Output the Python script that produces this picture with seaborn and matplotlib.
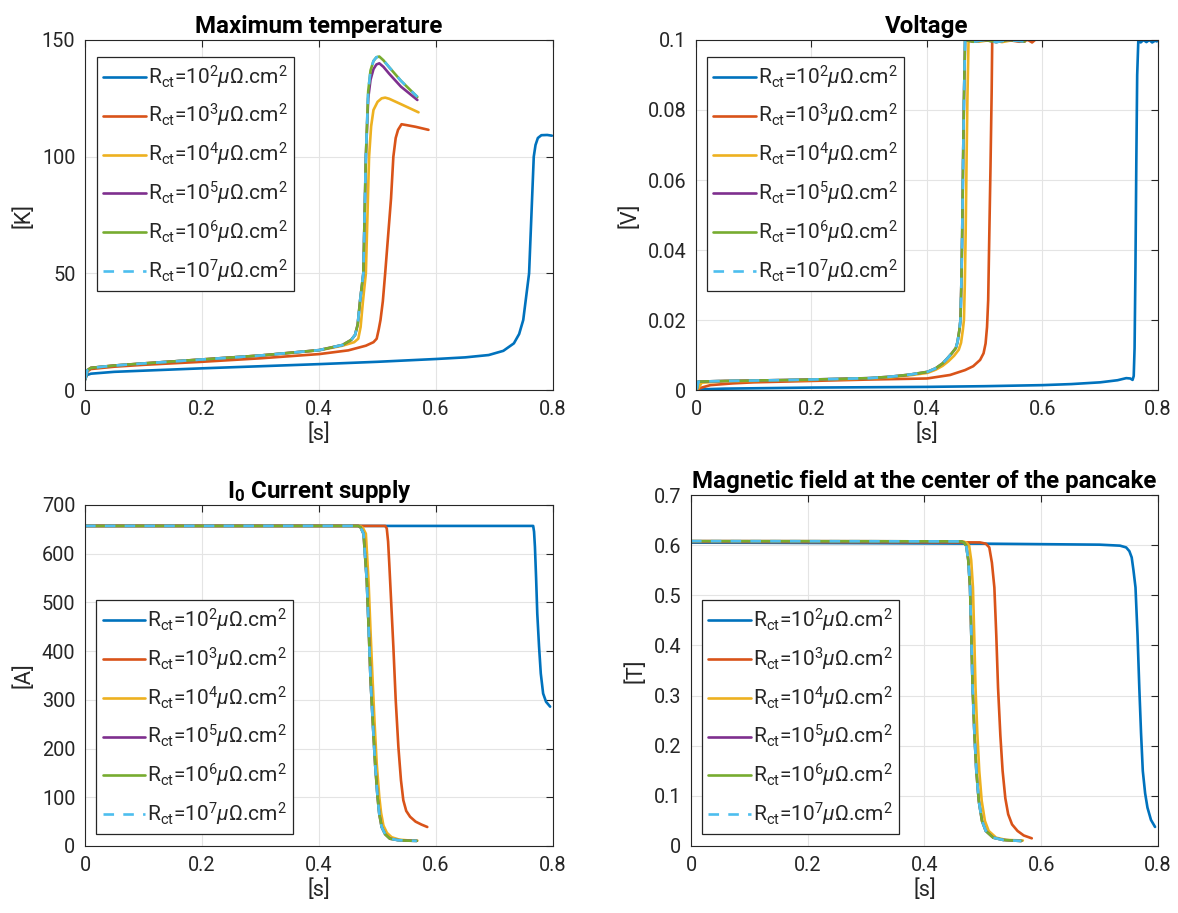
import matplotlib
matplotlib.use("Agg")
import matplotlib.pyplot as plt
import pandas as pd
import seaborn as sns

# ---- legend / style per series ----
exps = [2, 3, 4, 5, 6, 7]
colors = ["#0072BD", "#D95319", "#EDB120", "#7E2F8E", "#77AC30", "#4DBEEE"]

# ---- Maximum temperature [K] ----
temp_t_1e2 = [0, 0.003, 0.01, 0.05, 0.1, 0.2, 0.3, 0.4, 0.5, 0.6, 0.65, 0.69, 0.715, 0.733, 0.742,
              0.749, 0.754, 0.759, 0.763, 0.767, 0.770, 0.774, 0.780, 0.790, 0.798]
temp_k_1e2 = [4.3, 6.4, 7.0, 7.8, 8.3, 9.3, 10.2, 11.1, 12.1, 13.3, 14.0, 15.0, 16.8, 20.0, 24.0,
              30.0, 40.0, 50.0, 75.0, 100.0, 105.0, 108.0, 109.2, 109.3, 109.0]
temp_t_1e3 = [0, 0.004, 0.01, 0.05, 0.1, 0.2, 0.3, 0.4, 0.45, 0.48, 0.493, 0.4985, 0.502, 0.505, 0.509,
              0.513, 0.518, 0.523, 0.527, 0.531, 0.535, 0.541, 0.55, 0.565, 0.587]
temp_k_1e3 = [4.5, 8.0, 9.0, 10.0, 10.8, 12.1, 13.6, 15.4, 17.0, 19.0, 20.5, 22.0, 26.0, 30.0, 38.0,
              50.0, 66.0, 82.0, 100.0, 108.0, 111.5, 113.9, 113.5, 112.8, 111.5]
temp_t_1e4 = [0, 0.004, 0.01, 0.05, 0.1, 0.2, 0.3, 0.4, 0.44, 0.46, 0.467, 0.471, 0.475, 0.48, 0.4855,
              0.489, 0.493, 0.5, 0.507, 0.513, 0.52, 0.54, 0.57]
temp_k_1e4 = [4.5, 8.5, 9.5, 10.5, 11.4, 13.1, 14.8, 17.0, 19.0, 20.5, 22.0, 27.0, 38.0, 50.0, 100.0,
              113.0, 120.0, 123.5, 125.0, 125.3, 124.8, 122.5, 119.0]
temp_t_hi = [0, 0.004, 0.01, 0.05, 0.1, 0.2, 0.3, 0.4, 0.44, 0.455, 0.4615, 0.466, 0.47, 0.4757, 0.48,
             0.484, 0.488, 0.493, 0.498, 0.503, 0.51, 0.52, 0.54, 0.568]
temp_k_1e5 = [4.5, 8.5, 9.5, 10.5, 11.4, 13.1, 14.8, 17.1, 19.3, 21.5, 23.6, 28.0, 38.0, 50.0, 100.0,
              125.0, 133.0, 137.5, 139.5, 140.0, 138.5, 135.5, 130.0, 124.3]
temp_k_1e6 = [4.5, 8.5, 9.5, 10.5, 11.4, 13.1, 14.8, 17.1, 19.3, 21.5, 23.6, 28.0, 38.0, 50.0, 100.0,
              128.0, 137.0, 141.0, 142.6, 142.9, 141.3, 138.3, 132.5, 125.6]
temp_k_1e7 = temp_k_1e6

# ---- Voltage [V] ----
volt_t_1e2 = [0, 0.01, 0.05, 0.1, 0.2, 0.3, 0.4, 0.5, 0.6, 0.65, 0.7, 0.73, 0.745, 0.752, 0.756, 0.758,
              0.7595, 0.761, 0.7625, 0.764, 0.766, 0.77, 0.775, 0.78, 0.785, 0.79, 0.795, 0.798]
volt_v_1e2 = [0, 0.0002, 0.0004, 0.0005, 0.0007, 0.0008, 0.0009, 0.0011, 0.0014, 0.0017, 0.0022, 0.0028,
              0.0034, 0.0033, 0.0029, 0.004, 0.012, 0.035, 0.065, 0.09, 0.1, 0.0993, 0.1, 0.0994, 0.1,
              0.0993, 0.0998, 0.0996]
volt_t_1e3 = [0, 0.01, 0.025, 0.064, 0.1, 0.2, 0.3, 0.4, 0.44, 0.466, 0.48, 0.492, 0.498, 0.5015, 0.504,
              0.506, 0.508, 0.51, 0.512, 0.513, 0.52, 0.54, 0.56, 0.575, 0.582, 0.587]
volt_v_1e3 = [0, 0.0007, 0.0014, 0.0019, 0.0022, 0.0026, 0.003, 0.0033, 0.0043, 0.0057, 0.0068, 0.0086,
              0.0105, 0.0133, 0.018, 0.0257, 0.045, 0.0637, 0.085, 0.1, 0.0996, 0.1, 0.0995, 0.1,
              0.0993, 0.1]
volt_t_1e4 = [0, 0.004, 0.01, 0.05, 0.1, 0.2, 0.3, 0.336, 0.37, 0.401, 0.415, 0.427, 0.437, 0.447, 0.455,
              0.459, 0.462, 0.464, 0.4655, 0.467, 0.4685, 0.470, 0.472, 0.49, 0.51, 0.53, 0.55, 0.57]
volt_v_1e4 = [0, 0.0005, 0.0021, 0.0025, 0.0026, 0.0029, 0.0033, 0.0036, 0.0042, 0.0049, 0.0058, 0.0069,
              0.0082, 0.0098, 0.0115, 0.0135, 0.017, 0.02, 0.03, 0.045, 0.065, 0.083, 0.1, 0.0995, 0.1,
              0.0994, 0.1, 0.0996]
volt_t_hi = [0, 0.002, 0.004, 0.05, 0.1, 0.2, 0.3, 0.336, 0.37, 0.401, 0.415, 0.427, 0.435, 0.443, 0.45,
             0.453, 0.456, 0.458, 0.4595, 0.461, 0.4625, 0.464, 0.466, 0.48, 0.5, 0.52, 0.54, 0.569]
volt_v_hi = [0, 0.0005, 0.0024, 0.0026, 0.0027, 0.003, 0.0034, 0.0038, 0.0044, 0.0052, 0.0062, 0.0076,
             0.009, 0.0105, 0.012, 0.0138, 0.017, 0.02, 0.03, 0.0447, 0.065, 0.0827, 0.1, 0.0995, 0.1,
             0.0994, 0.1, 0.0996]

# ---- I0 current supply [A] ----
curr_t_1e2 = [0, 0.766, 0.7675, 0.769, 0.771, 0.773, 0.776, 0.779, 0.783, 0.788, 0.795]
curr_a_1e2 = [657, 657, 645, 614, 550, 477, 410, 354, 313, 296, 286]
curr_t_1e3 = [0, 0.513, 0.5157, 0.518, 0.520, 0.5235, 0.527, 0.531, 0.5356, 0.540, 0.544, 0.549, 0.5556,
              0.565, 0.575, 0.585]
curr_a_1e3 = [657, 657, 652, 625, 580, 495, 409, 300, 203, 135, 94, 72, 60, 50, 44, 39]
curr_t_1e4 = [0, 0.470, 0.475, 0.480, 0.4845, 0.488, 0.4915, 0.495, 0.4985, 0.503, 0.506, 0.510, 0.516,
              0.524, 0.537, 0.552, 0.568]
curr_a_1e4 = [657, 657, 653, 641, 546, 440, 341, 250, 170, 100, 68, 42, 27, 18, 13, 11.5, 11]
curr_t_hi = [0, 0.467, 0.471, 0.476, 0.4815, 0.485, 0.488, 0.492, 0.4957, 0.5, 0.503, 0.507, 0.513,
             0.521, 0.535, 0.55, 0.567]
curr_a_hi = [657, 657, 654, 641, 546, 440, 341, 250, 170, 100, 65, 39, 24, 15, 12, 11, 10.5]

# ---- Magnetic field at the center [T] ----
field_t_1e2 = [0, 0.1, 0.3, 0.5, 0.7, 0.735, 0.7455, 0.751, 0.755, 0.758, 0.7615, 0.765, 0.768, 0.771,
               0.774, 0.778, 0.782, 0.788, 0.795]
field_b_1e2 = [0.605, 0.6048, 0.604, 0.603, 0.601, 0.599, 0.5955, 0.588, 0.5755, 0.55, 0.5157, 0.42,
               0.316, 0.225, 0.1497, 0.105, 0.0765, 0.052, 0.038]
field_t_1e3 = [0, 0.3, 0.495, 0.505, 0.511, 0.5155, 0.5197, 0.523, 0.526, 0.53, 0.5338, 0.5385, 0.5434,
               0.55, 0.5594, 0.57, 0.5838]
field_b_1e3 = [0.6065, 0.606, 0.6055, 0.603, 0.5955, 0.565, 0.5157, 0.42, 0.316, 0.22, 0.15, 0.095,
               0.0632, 0.043, 0.03, 0.021, 0.0153]
field_t_1e4 = [0, 0.3, 0.466, 0.472, 0.4765, 0.48, 0.483, 0.4852, 0.4874, 0.4905, 0.4938, 0.498, 0.5035,
               0.51, 0.5227, 0.54, 0.5685]
field_b_1e4 = [0.608, 0.6078, 0.6075, 0.605, 0.5988, 0.57, 0.5157, 0.42, 0.316, 0.225, 0.15, 0.09, 0.05,
               0.03, 0.0166, 0.012, 0.011]
field_t_hi = [0, 0.3, 0.463, 0.4675, 0.4715, 0.475, 0.478, 0.4802, 0.4824, 0.4855, 0.4888, 0.493, 0.4985,
              0.505, 0.5177, 0.535, 0.5658]
field_b_hi = [0.608, 0.6078, 0.6075, 0.605, 0.5988, 0.57, 0.5157, 0.42, 0.316, 0.225, 0.15, 0.09, 0.05,
              0.03, 0.0166, 0.012, 0.01]

panels = [
    dict(title="Maximum temperature", ylabel="[K]",
         series=[(temp_t_1e2, temp_k_1e2), (temp_t_1e3, temp_k_1e3), (temp_t_1e4, temp_k_1e4),
                 (temp_t_hi, temp_k_1e5), (temp_t_hi, temp_k_1e6), (temp_t_hi, temp_k_1e7)],
         yticks=[0, 50, 100, 150], yticklabels=["0", "50", "100", "150"], ylim=(0, 150),
         legend=("upper left", (0.025, 0.951))),
    dict(title="Voltage", ylabel="[V]",
         series=[(volt_t_1e2, volt_v_1e2), (volt_t_1e3, volt_v_1e3), (volt_t_1e4, volt_v_1e4),
                 (volt_t_hi, volt_v_hi), (volt_t_hi, volt_v_hi), (volt_t_hi, volt_v_hi)],
         yticks=[0, 0.02, 0.04, 0.06, 0.08, 0.1],
         yticklabels=["0", "0.02", "0.04", "0.06", "0.08", "0.1"], ylim=(0, 0.1),
         legend=("upper left", (0.024, 0.951))),
    dict(title=r"$\mathbf{I_0}$ Current supply", ylabel="[A]",
         series=[(curr_t_1e2, curr_a_1e2), (curr_t_1e3, curr_a_1e3), (curr_t_1e4, curr_a_1e4),
                 (curr_t_hi, curr_a_hi), (curr_t_hi, curr_a_hi), (curr_t_hi, curr_a_hi)],
         yticks=[0, 100, 200, 300, 400, 500, 600, 700],
         yticklabels=["0", "100", "200", "300", "400", "500", "600", "700"], ylim=(0, 700),
         legend=("lower left", (0.024, 0.034))),
    dict(title="Magnetic field at the center of the pancake", ylabel="[T]",
         series=[(field_t_1e2, field_b_1e2), (field_t_1e3, field_b_1e3), (field_t_1e4, field_b_1e4),
                 (field_t_hi, field_b_hi), (field_t_hi, field_b_hi), (field_t_hi, field_b_hi)],
         yticks=[0, 0.1, 0.2, 0.3, 0.4, 0.5, 0.6, 0.7],
         yticklabels=["0", "0.1", "0.2", "0.3", "0.4", "0.5", "0.6", "0.7"], ylim=(0, 0.7),
         legend=("lower left", (0.024, 0.033))),
]
xticks = [0, 0.2, 0.4, 0.6, 0.8]
xticklabels = ["0", "0.2", "0.4", "0.6", "0.8"]

sns.set_style("white")
plt.rcParams["font.family"] = ["Roboto", "DejaVu Sans"]
plt.rcParams["mathtext.fontset"] = "custom"
plt.rcParams["mathtext.rm"] = "Roboto"
plt.rcParams["mathtext.it"] = "Roboto:italic"
plt.rcParams["mathtext.bf"] = "Roboto:bold"

FS = 14.3
dark = "#262626"

fig = plt.figure(figsize=(11.78, 9.13), dpi=100)
positions = [
    [0.0722, 0.5728, 0.3973, 0.3834],
    [0.5908, 0.5728, 0.3922, 0.3834],
    [0.0722, 0.0734, 0.3973, 0.3735],
    [0.5866, 0.0734, 0.3964, 0.3844],
]

for p, pos in zip(panels, positions):
    ax = fig.add_axes(pos)
    for i, (tt, yy) in enumerate(p["series"]):
        df = pd.DataFrame({"t": tt, "y": yy})
        lab = r"R$_{\rm ct}$=10$^{%d}$$\mu\Omega$.cm$^{2}$" % exps[i]
        sns.lineplot(data=df, x="t", y="y", ax=ax, color=colors[i], lw=1.9,
                     estimator=None, sort=False, label=lab)
    ax.lines[-1].set_dashes((4, 3.5))
    ax.set_xlim(0, 0.8)
    ax.set_ylim(*p["ylim"])
    ax.set_xticks(xticks)
    ax.set_xticklabels(xticklabels)
    ax.set_yticks(p["yticks"])
    ax.set_yticklabels(p["yticklabels"])
    ax.grid(True, color="#e4e4e4", lw=0.8)
    ax.set_axisbelow(True)
    ax.tick_params(direction="in", length=5, width=0.8, color=dark, labelcolor=dark,
                   labelsize=FS, top=True, right=True, pad=7)
    for s in ax.spines.values():
        s.set_visible(True)
        s.set_color(dark)
        s.set_linewidth(0.8)
    ax.set_xlabel("[s]", fontsize=15.7, color=dark, labelpad=3)
    ax.set_ylabel(p["ylabel"], fontsize=15.7, color=dark, labelpad=5)
    ax.set_title(p["title"], fontsize=17.4, fontweight="bold", color="black", pad=5)
    loc, anchor = p["legend"]
    leg = ax.legend(loc=loc, bbox_to_anchor=anchor, borderaxespad=0, fontsize=15.0,
                    frameon=True, fancybox=False, handlelength=2.05, handletextpad=0.1,
                    labelspacing=0.56, borderpad=0.3)
    leg.get_frame().set_edgecolor(dark)
    leg.get_frame().set_linewidth(0.9)
    leg.get_frame().set_alpha(1)

fig.savefig("out.png", dpi=100)
